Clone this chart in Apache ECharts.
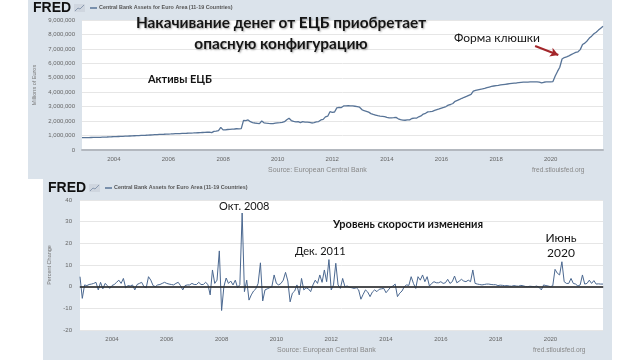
<!DOCTYPE html>
<html><head><meta charset="utf-8">
<script src="https://cdn.jsdelivr.net/npm/echarts@6/dist/echarts.min.js"></script>
<style>html,body{margin:0;padding:0;background:#fff}#c{width:640px;height:360px}</style>
</head><body><div id="c"></div>
<script>
// Monthly observations start in Nov 2002
const startYear = 2002, startMonth = 11;

// Central Bank Assets for Euro Area, thousands of millions of euros (monthly, Nov 2002 - Dec 2021)
const assets = [
  850, 855,                                                            // 2002 Nov-Dec
  860, 858, 865, 870, 872, 878, 880, 885, 890, 900, 915, 918,          // 2003
  925, 930, 935, 940, 950, 955, 960, 968, 975, 985, 990, 1000,         // 2004
  1010, 1015, 1020, 1030, 1040, 1050, 1058, 1065, 1075, 1085, 1090, 1100, // 2005
  1105, 1112, 1120, 1128, 1135, 1140, 1148, 1155, 1160, 1168, 1175, 1180, // 2006
  1188, 1195, 1200, 1210, 1218, 1230, 1240, 1200, 1290, 1305, 1345, 1565, // 2007
  1395, 1390, 1420, 1430, 1450, 1455, 1470, 1465, 1480, 2050, 2030, 2080, // 2008
  1960, 1900, 1870, 1850, 1830, 2010, 1880, 1855, 1840, 1830, 1830, 1860, // 2009
  1880, 1890, 1910, 1960, 2090, 2200, 2040, 1980, 1950, 1960, 1890, 1960, // 2010
  1935, 1930, 1910, 1870, 1890, 1940, 1970, 2080, 2120, 2290, 2340, 2650, // 2011
  2610, 2630, 2920, 2950, 2940, 3050, 3060, 3070, 3060, 3050, 3030, 3010, // 2012
  2960, 2800, 2720, 2680, 2620, 2520, 2460, 2420, 2380, 2350, 2330, 2310, // 2013
  2260, 2230, 2230, 2240, 2260, 2160, 2100, 2070, 2060, 2080, 2090, 2180, // 2014
  2210, 2200, 2300, 2360, 2490, 2540, 2640, 2650, 2680, 2740, 2790, 2840, // 2015
  2900, 2950, 3010, 3110, 3150, 3220, 3370, 3430, 3500, 3580, 3650, 3710, // 2016
  3780, 3850, 4080, 4130, 4170, 4200, 4230, 4270, 4320, 4360, 4400, 4430, // 2017
  4460, 4480, 4510, 4530, 4550, 4570, 4590, 4610, 4630, 4640, 4660, 4680, // 2018
  4700, 4700, 4705, 4710, 4715, 4715, 4720, 4700, 4650, 4690, 4710, 4720, // 2019
  4720, 4740, 5120, 5440, 5730, 6300, 6400, 6450, 6520, 6600, 6680, 6760, // 2020
  6800, 6950, 7300, 7400, 7550, 7750, 7880, 8050, 8150, 8300, 8430, 8560  // 2021
];

// Percent change (monthly)
const pctChange = [
  4.6, -5.4,
  0.8, 0.5, 1, 1.2, 1.5, 2, -1.5, 2, -1, 1.5, 0.5, -0.8,
  0.5, 1, 2, 3, 1.5, 3.8, -0.5, 0.5, 0.3, 0.8, -1.5, 1,
  1.5, 2, 0, -0.5, 4.6, 3, 0.5, 0, 0.8, 1, 1.5, 2,
  1.5, 1.2, 1, 0.8, 1.5, 2, 0.5, -1.5, 0.5, 0.8, 0.8, 1.5,
  1, 1, 2, 1, 1, 2, 1, -3.8, 7.7, 1.5, 3, 16.5,
  -11, 0, 4, 1.5, 2.6, 0.8, 3, -0.5, 1, 34, -2.3, 3,
  -6.2, -3.8, -2, -1, 1.5, 11, -6.6, -1.5, -1, -0.5, 0, 5.4,
  1.5, 0.8, 1.5, 3, 6.6, 2.6, -7, -3, -2, 0.8, -3.8, 3.8,
  -1.5, -0.5, -1, -2.3, 0.8, 3, 1.5, 5.4, 2, 7.7, 2.3, 12.5,
  -1.5, 0.8, 10.8, 0.8, -0.8, 3.8, 0, 0.3, -0.3, -0.5, -0.8, -0.5,
  -1.5, -5.8, -3.5, -1.5, -2.5, -4.6, -2.5, -1.5, -2.3, -1.2, -1, -0.8,
  -2.8, -1.5, -0.3, 0.3, 1.2, -4.6, -3, -2, 0, 0.8, 0.6, 4.6,
  1.5, -0.8, 4.6, 3, 5.4, 2.3, 4.6, 0.3, 1.5, 2.3, 1.8, 1.8,
  2.3, 1.5, 1.8, 3.4, 1.5, 2.3, 4.9, 1.8, 2.5, 3.4, 2.6, 2.3,
  3, 2.3, 7.7, 1.5, 1.2, 1, 0.8, 1, 1.2, 1.2, 1, 0.9,
  0.9, 0.5, 0.7, 0.6, 0.4, 0.5, 0.3, 0.2, 0.5, 0.3, 0.2, 0.6,
  0.4, 0.1, 0, 0.2, 0.1, 0, 0.3, -0.3, -1.5, 0.8, 0.5, 0.3,
  0, 0.4, 8, 6.2, 5.4, 11.5, 2.3, 1.5, 1.5, 3.8, 1.5, 1.2,
  0.3, 0.8, 5.4, 1.2, 1.5, 3, 1.5, 2.8, 1.2, 1.3, 1.2, 1.2
];

const yearTicks = [2004, 2006, 2008, 2010, 2012, 2014, 2016, 2018, 2020];
const seriesTitle = 'Central Bank Assets for Euro Area (11-19 Countries)';

// time positions (decimal years) for each month
const xs = assets.map((_, i) => startYear + (startMonth - 1 + i) / 12);
const xMin = xs[0], xMax = xs[xs.length - 1];

const chart = echarts.init(document.getElementById('c'), null, {renderer: 'canvas'});
const PANEL = '#dbe3eb';
const LINE = '#587497';
const axisLblFont = {fontSize: 6, color: '#666', fontFamily: 'Liberation Sans, Arial, sans-serif'};

function xAxisCfg(gi) {
  return {
    type: 'value', gridIndex: gi, min: xMin, max: xMax,
    splitLine: {show: false},
    axisLine: {show: true, lineStyle: {color: '#b3b8bf', width: 2}},
    axisTick: {show: false},
    axisLabel: Object.assign({customValues: yearTicks, margin: 6, formatter: v => String(Math.round(v))}, axisLblFont)
  };
}

function fredHeader(x, y) {
  return [
    {type: 'text', x: x, y: y, style: {text: 'FRED', font: 'bold 14px "Liberation Sans", Arial, sans-serif', fill: '#111', textVerticalAlign: 'middle'}},
    {type: 'rect', shape: {x: x + 41, y: y - 4, width: 11, height: 8}, style: {fill: '#cfd6df'}},
    {type: 'polyline', shape: {points: [[x + 42, y + 3], [x + 45, y], [x + 47, y + 1], [x + 51, y - 3]]}, style: {stroke: '#8a9ab0', lineWidth: 1, fill: null}},
    {type: 'line', shape: {x1: x + 57, y1: y, x2: x + 64, y2: y}, style: {stroke: LINE, lineWidth: 1.5}},
    {type: 'text', x: x + 66, y: y, style: {text: seriesTitle, font: 'bold 5.4px "Liberation Sans", Arial, sans-serif', fill: '#555', textVerticalAlign: 'middle'}}
  ];
}

const annFont = '"Lato", "Noto Sans", sans-serif';
function txt(t, x, y, font, extra, props) {
  return Object.assign({type: 'text', x: x, y: y, z: 50, style: Object.assign({text: t, font: font, fill: '#151515', textVerticalAlign: 'middle'}, extra || {})}, props || {});
}
const shadow = {textAlign: 'center', shadowColor: 'rgba(0,0,0,0.35)', shadowBlur: 2, shadowOffsetX: 1, shadowOffsetY: 1,
  textShadowColor: 'rgba(0,0,0,0.35)', textShadowBlur: 2, textShadowOffsetX: 1, textShadowOffsetY: 1};

const option = {
  animation: false,
  backgroundColor: '#fff',
  grid: [
    {left: 82, right: 37, top: 20, height: 130, show: true, backgroundColor: '#fff', borderWidth: 0},
    {left: 80, right: 37, top: 200, height: 130, show: true, backgroundColor: '#fff', borderWidth: 0}
  ],
  xAxis: [xAxisCfg(0), xAxisCfg(1)],
  yAxis: [
    {
      type: 'value', gridIndex: 0, min: 0, max: 9000, interval: 1000,
      name: 'Millions of Euros', nameLocation: 'middle', nameGap: 44,
      nameTextStyle: {fontSize: 5.5, color: '#777', fontFamily: 'Liberation Sans, Arial, sans-serif'},
      axisLine: {show: false}, axisTick: {show: false},
      splitLine: {lineStyle: {color: '#e6e6e6', width: 1}},
      axisLabel: Object.assign({margin: 7, formatter: v => (v * 1000).toLocaleString('en-US')}, axisLblFont)
    },
    {
      type: 'value', gridIndex: 1, min: -20, max: 40, interval: 10,
      name: 'Percent Change', nameLocation: 'middle', nameGap: 27,
      nameTextStyle: {fontSize: 5.5, color: '#777', fontFamily: 'Liberation Sans, Arial, sans-serif'},
      axisLine: {show: false}, axisTick: {show: false},
      splitLine: {lineStyle: {color: '#e6e6e6', width: 1}},
      axisLabel: Object.assign({margin: 8}, axisLblFont)
    }
  ],
  series: [
    {
      type: 'line', xAxisIndex: 0, yAxisIndex: 0, showSymbol: false, symbol: 'none',
      data: xs.map((x, i) => [x, assets[i]]),
      lineStyle: {color: LINE, width: 1.3},
      markLine: {
        silent: true, symbol: ['none', 'arrow'], symbolSize: [7, 8],
        label: {show: false},
        lineStyle: {color: '#a3262a', width: 2, type: 'solid'},
        data: [[{coord: [2019.43, 7200]}, {coord: [2020.28, 6580]}]]
      }
    },
    {
      type: 'line', xAxisIndex: 1, yAxisIndex: 1, showSymbol: false, symbol: 'none',
      data: xs.map((x, i) => [x, pctChange[i]]),
      lineStyle: {color: '#4b6890', width: 1},
      markLine: {
        silent: true, symbol: 'none', label: {show: false},
        lineStyle: {color: '#2a2a2a', width: 1.5, type: 'solid'},
        data: [{yAxis: 0}]
      }
    }
  ],
  graphic: {
    elements: [
      {type: 'rect', z: -100, shape: {x: 28, y: 0, width: 584, height: 179}, style: {fill: PANEL}},
      {type: 'rect', z: -100, shape: {x: 43, y: 179, width: 569, height: 181}, style: {fill: PANEL}},
      ...fredHeader(33, 8),
      ...fredHeader(48, 188),
      txt('Source: European Central Bank', 268, 170, '7px "Liberation Sans", Arial, sans-serif', {fill: '#888'}),
      txt('fred.stlouisfed.org', 532, 170, '6.6px "Liberation Sans", Arial, sans-serif', {fill: '#888'}),
      txt('Source: European Central Bank', 277, 350, '7px "Liberation Sans", Arial, sans-serif', {fill: '#888'}),
      txt('fred.stlouisfed.org', 533, 350, '6.6px "Liberation Sans", Arial, sans-serif', {fill: '#888'}),
      txt('Накачивание денег от ЕЦБ приобретает', 281, 23, 'bold 16px ' + annFont, shadow, {scaleX: 0.96, originX: 0, originY: 0}),
      txt('опасную конфигурацию', 281, 44, 'bold 16px ' + annFont, shadow, {scaleX: 0.96, originX: 0, originY: 0}),
      txt('Активы ЕЦБ', 148, 79, 'bold 11px ' + annFont),
      txt('Форма клюшки', 454, 38, '12px ' + annFont),
      txt('Окт. 2008', 219, 206, '11px ' + annFont),
      txt('Уровень скорости изменения', 333, 224, 'bold 11px ' + annFont),
      txt('Дек. 2011', 295, 251, '11px ' + annFont),
      txt('Июнь', 561, 238, '12px ' + annFont, {textAlign: 'center'}),
      txt('2020', 561, 253, '12px ' + annFont, {textAlign: 'center'})
    ]
  }
};
chart.setOption(option);
</script>
</body></html>
